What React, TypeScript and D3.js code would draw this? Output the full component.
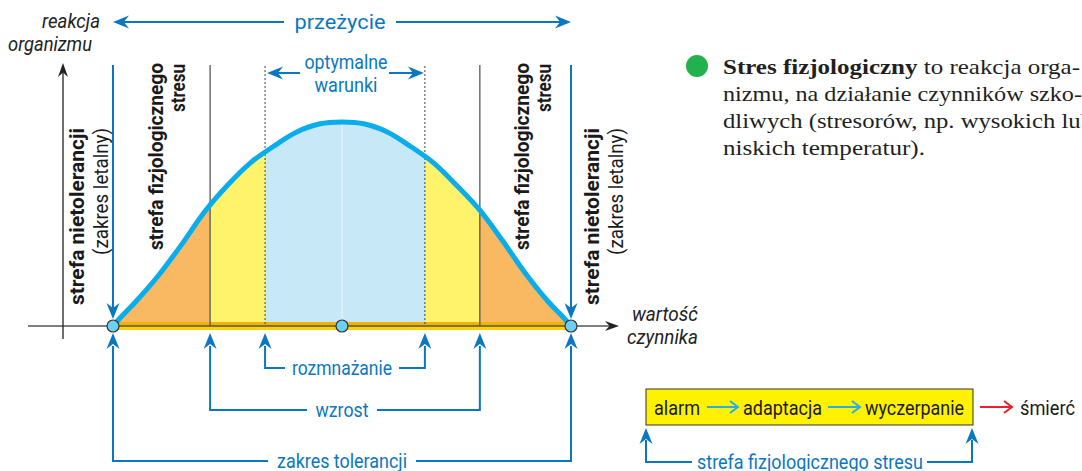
import * as d3 from "d3";
import React from "react";

// Krzywa reakcji organizmu, wartość czynnika 0..100
const curveFactor = [0, 2, 5, 10, 15, 20, 25, 30, 35, 40, 45, 50, 55, 60, 65, 70, 75, 80, 85, 90, 95, 98, 100];
const curveReaction = [0, 5, 12, 25, 40, 56, 69, 80, 88, 95, 99, 100, 99, 95, 88, 80, 69, 57, 42, 26, 12, 5, 0];

// Granice stref
const zoneEdges = [0, 21.2, 33.2, 68.1, 80.1, 100];
const zoneFills = ["#f9b862", "#fff36c", "#c6e8f7", "#fff36c", "#f9b862"];
const lethalLimits = [0, 100];
const stressLimits = [21.2, 80.1];
const optimumLimits = [33.2, 68.1];
const optimumPoint = 50;

// Nawiasy pod osią
const bracketLabels = ["rozmnażanie", "wzrost", "zakres tolerancji"];
const bracketFrom = [33.2, 21.2, 0];
const bracketTo = [68.1, 80.1, 100];

// Schemat stresu
const stressStages = ["alarm", "adaptacja", "wyczerpanie"];

// Opis
const noteLines = [
  "nizmu, na działanie czynników szko-",
  "dliwych (stresorów, np. wysokich lub",
  "niskich temperatur).",
];

const BLUE = "#0b77c1";
const CURVE = "#0aadec";
const INK = "#1a1a1a";
const SANS = "Roboto, 'Liberation Sans', sans-serif";
const SERIF = "'Liberation Serif', 'DejaVu Serif', serif";

function head(tx: number, ty: number, dx: number, dy: number, L = 16, W = 6.5) {
  const px = -dy, py = dx;
  const bx = tx - dx * L, by = ty - dy * L;
  const nx = tx - dx * L * 0.68, ny = ty - dy * L * 0.68;
  return `M${tx},${ty}L${bx + px * W},${by + py * W}L${nx},${ny}L${bx - px * W},${by - py * W}Z`;
}

// tekst o zadanej szerokości (czcionka wąska jak w oryginale)
function T(props: any) {
  const { w, children, ...rest } = props;
  return (
    <text fontSize={21} textLength={w} lengthAdjust="spacingAndGlyphs" {...rest}>{children}</text>
  );
}

export default function App() {
  const x = d3.scaleLinear().domain([0, 100]).range([113, 571]);
  const y = d3.scaleLinear().domain([0, 100]).range([326, 122]);
  const pts = curveFactor.map((f, i) => [f, curveReaction[i]] as [number, number]);

  const area = d3.area<[number, number]>()
    .x((d) => x(d[0])).y0(y(0)).y1((d) => y(d[1]))
    .curve(d3.curveCatmullRom.alpha(0.5));
  const line = d3.line<[number, number]>()
    .x((d) => x(d[0])).y((d) => y(d[1]))
    .curve(d3.curveCatmullRom.alpha(0.5));

  const base = y(0);
  const topY = 65;
  const bracketY = [368, 410, 461];
  const bracketGap = [57, 35, 74];
  const bracketW = [100, 53, 130];
  const stageX = [654, 743, 865];
  const stageW = [46, 79, 99];

  return (
    <svg width={1082} height={471} style={{ position: "absolute", left: 0, top: 0, background: "#fff" }}
      fontFamily={SANS}>
      <defs>
        {zoneFills.map((_, i) => (
          <clipPath id={`zone${i}`} key={i}>
            <rect x={x(zoneEdges[i])} y={0} width={x(zoneEdges[i + 1]) - x(zoneEdges[i])} height={471} />
          </clipPath>
        ))}
      </defs>

      {/* strefy pod krzywą */}
      {zoneFills.map((c, i) => (
        <path key={i} d={area(pts) || ""} fill={c} clipPath={`url(#zone${i})`} />
      ))}
      <line x1={x(optimumPoint)} x2={x(optimumPoint)} y1={y(100)} y2={base} stroke="#fff" strokeOpacity={0.6} strokeWidth={1} />
      <rect x={x(0)} y={base - 4} width={x(100) - x(0)} height={4} fill="#f2b400" />
      <rect x={x(0)} y={base} width={x(100) - x(0)} height={4} fill="#ffd200" />

      {/* linie stref */}
      {stressLimits.map((v) => (
        <line key={v} x1={x(v)} x2={x(v)} y1={topY} y2={base} stroke="#4a4a4a" strokeWidth={1.2} />
      ))}
      {optimumLimits.map((v) => (
        <line key={v} x1={x(v)} x2={x(v)} y1={topY + 1} y2={base} stroke="#444" strokeWidth={1} strokeDasharray="2,2" />
      ))}

      {/* krzywa */}
      <path d={line(pts) || ""} fill="none" stroke={CURVE} strokeWidth={5} strokeLinejoin="round" />

      {/* osie */}
      <line x1={28} x2={610} y1={base} y2={base} stroke="#555" strokeWidth={1.5} />
      <path d={head(619, base, 1, 0, 14, 5)} fill="#222" />
      <line x1={63} x2={63} y1={339} y2={72} stroke="#222" strokeWidth={1.3} />
      <path d={head(63, 63, 0, -1, 14, 5)} fill="#222" />

      {/* linie letalne */}
      {lethalLimits.map((v) => (
        <g key={v}>
          <line x1={x(v)} x2={x(v)} y1={topY} y2={310} stroke={BLUE} strokeWidth={2} />
          <path d={head(x(v), 319, 0, 1)} fill={BLUE} />
        </g>
      ))}

      {/* punkty */}
      {[...lethalLimits, optimumPoint].map((v) => (
        <circle key={v} cx={x(v)} cy={base} r={6} fill="#6dcff6" stroke="#333" strokeWidth={1.2} />
      ))}

      {/* przeżycie */}
      <line x1={x(0) + 10} x2={284} y1={22} y2={22} stroke={BLUE} strokeWidth={2} />
      <line x1={396} x2={x(100) - 10} y1={22} y2={22} stroke={BLUE} strokeWidth={2} />
      <path d={head(x(0), 22, -1, 0)} fill={BLUE} />
      <path d={head(x(100), 22, 1, 0)} fill={BLUE} />
      <T x={340} y={29} w={91} textAnchor="middle" fill={BLUE}>przeżycie</T>

      {/* optymalne warunki */}
      <line x1={x(optimumLimits[0]) + 10} x2={300} y1={73} y2={73} stroke={BLUE} strokeWidth={2} />
      <line x1={389} x2={x(optimumLimits[1]) - 10} y1={73} y2={73} stroke={BLUE} strokeWidth={2} />
      <path d={head(x(optimumLimits[0]) + 2, 73, -1, 0)} fill={BLUE} />
      <path d={head(x(optimumLimits[1]) - 1, 73, 1, 0)} fill={BLUE} />
      <T x={346} y={69} w={83} textAnchor="middle" fill={BLUE}>optymalne</T>
      <T x={346} y={92} w={63} textAnchor="middle" fill={BLUE}>warunki</T>

      {/* opisy osi */}
      <T x={42} y={28} w={58} fontStyle="italic" fill="#222">reakcja</T>
      <T x={8} y={51} w={84} fontStyle="italic" fill="#222">organizmu</T>
      <T x={632} y={321} w={66} fontStyle="italic" fill="#222">wartość</T>
      <T x={627} y={344} w={71} fontStyle="italic" fill="#222">czynnika</T>

      {/* pionowe napisy */}
      {[[77, 101], [592, 616]].map(([bx, rx], i) => (
        <g key={"n" + i} fill={INK}>
          <T transform={`translate(${bx + 7},128) rotate(-90)`} w={177} textAnchor="end" fontWeight="bold">strefa nietolerancji</T>
          <T transform={`translate(${rx + 7},128) rotate(-90)`} w={127} textAnchor="end">(zakres letalny)</T>
        </g>
      ))}
      {[[156, 178], [522, 544]].map(([ax, bx], i) => (
        <g key={"s" + i} fill={INK} fontWeight="bold">
          <T transform={`translate(${ax + 7},63) rotate(-90)`} w={187} textAnchor="end">strefa fizjologicznego</T>
          <T transform={`translate(${bx + 7},64) rotate(-90)`} w={48} textAnchor="end">stresu</T>
        </g>
      ))}

      {/* nawiasy */}
      {bracketLabels.map((lab, i) => {
        const a = x(bracketFrom[i]), b = x(bracketTo[i]), by = bracketY[i];
        const cx = x(50), g = bracketGap[i];
        return (
          <g key={lab}>
            <path d={`M${a},346V${by}H${cx - g}M${cx + g},${by}H${b}V346`} fill="none" stroke={BLUE} strokeWidth={2} />
            <path d={head(a, 333, 0, -1)} fill={BLUE} />
            <path d={head(b, 333, 0, -1)} fill={BLUE} />
            <T x={cx} y={by + 7} w={bracketW[i]} textAnchor="middle" fill={BLUE}>{lab}</T>
          </g>
        );
      })}

      {/* schemat stresu */}
      <rect x={646} y={389} width={327} height={36} fill="#fff200" stroke="#333" strokeWidth={1} />
      {stressStages.map((s, i) => (
        <T key={s} x={stageX[i]} y={415} w={stageW[i]} fill={INK}>{s}</T>
      ))}
      {[[707, 738], [828, 860]].map(([a, b]) => (
        <g key={a} stroke="#2aaee6" strokeWidth={2} fill="none">
          <line x1={a} x2={b} y1={407} y2={407} />
          <path d={`M${b - 8},401L${b},407L${b - 8},413`} />
        </g>
      ))}
      <g stroke="#e8202a" strokeWidth={2} fill="none">
        <line x1={980} x2={1012} y1={407} y2={407} />
        <path d={`M1004,401L1012,407L1004,413`} />
      </g>
      <T x={1020} y={415} w={55} fill={INK}>śmierć</T>
      <path d={`M646,440V462H692M927,462H972V440`} fill="none" stroke={BLUE} strokeWidth={2} />
      <path d={head(646, 428, 0, -1)} fill={BLUE} />
      <path d={head(972, 428, 0, -1)} fill={BLUE} />
      <T x={810} y={469} w={226} textAnchor="middle" fill={BLUE}>strefa fizjologicznego stresu</T>

      {/* opis */}
      <circle cx={697} cy={66} r={11} fill="#22b14c" />
      <g fontFamily={SERIF} fontSize={22} fill="#231f20">
        <text x={723} y={74} textLength={357} lengthAdjust="spacingAndGlyphs">
          <tspan fontWeight="bold">Stres fizjologiczny</tspan> to reakcja orga-
        </text>
        {noteLines.map((l, i) => (
          <text key={i} x={723} y={101 + i * 27} textLength={[359, 370, 202][i]} lengthAdjust="spacingAndGlyphs">{l}</text>
        ))}
      </g>
    </svg>
  );
}
